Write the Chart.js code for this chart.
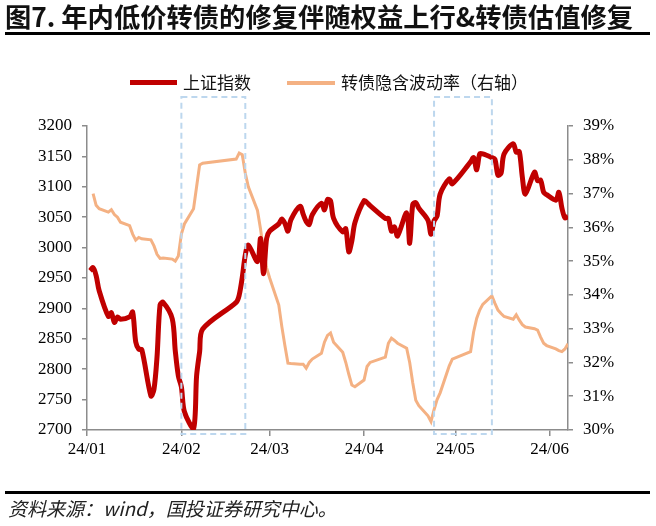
<!DOCTYPE html>
<html>
<head>
<meta charset="utf-8">
<script src="https://cdn.jsdelivr.net/npm/chart.js@4.4.1/dist/chart.umd.min.js"></script>
<style>
  body { margin: 0; background: #fff; }
  #wrap { position: relative; width: 656px; height: 526px; overflow: hidden; font-family: "Noto Sans CJK SC", sans-serif; }
  #chart { position: absolute; left: 0; top: 0; }
  .title { position: absolute; left: 5px; top: 1px; font-size: 26.3px; line-height: 30px; font-weight: bold; color: #111; white-space: nowrap; }
  .rule { position: absolute; left: 5px; width: 645px; height: 3px; background: #000; }
  .swatch { position: absolute; }
  .legtext { position: absolute; font-size: 17px; line-height: 20px; color: #111; white-space: nowrap; }
  .source { position: absolute; left: 8px; top: 496px; font-size: 19px; line-height: 24px; color: #222; font-style: italic; white-space: nowrap; }
</style>
</head>
<body>
<div id="wrap">
  <canvas id="chart" width="656" height="526"></canvas>
  <div class="title">图7. 年内低价转债的修复伴随权益上行&amp;转债估值修复</div>
  <div class="rule" style="top:32px"></div>
  <div class="swatch" style="left:130px;top:80px;width:47px;height:5px;background:#C00000"></div>
  <div class="legtext" style="left:183px;top:72px">上证指数</div>
  <div class="swatch" style="left:287px;top:81px;width:48px;height:4px;background:#F4B183"></div>
  <div class="legtext" style="left:341px;top:72px">转债隐含波动率（右轴）</div>
  <div class="rule" style="top:491px"></div>
  <div class="source">资料来源：wind，国投证券研究中心。</div>
</div>
<script>
// trading days 2024 (MM-DD)
const dates = [
  "01-02","01-03","01-04","01-05","01-08","01-09","01-10","01-11","01-12","01-15","01-16","01-17","01-18","01-19","01-22","01-23","01-24","01-25","01-26","01-29","01-30","01-31",
  "02-01","02-02","02-05","02-06","02-07","02-08","02-19","02-20","02-21","02-22","02-23","02-26","02-27","02-28","02-29",
  "03-01","03-04","03-05","03-06","03-07","03-08","03-11","03-12","03-13","03-14","03-15","03-18","03-19","03-20","03-21","03-22","03-25","03-26","03-27","03-28","03-29",
  "04-01","04-02","04-03","04-08","04-09","04-10","04-11","04-12","04-15","04-16","04-17","04-18","04-19","04-22","04-23","04-24","04-25","04-26","04-29","04-30",
  "05-06","05-07","05-08","05-09","05-10","05-13","05-14","05-15","05-16","05-17","05-20","05-21","05-22","05-23","05-24","05-27","05-28","05-29","05-30","05-31",
  "06-03","06-04","06-05","06-06","06-07"
];

// 上证指数 (left axis)
const shIndex = [
  2962,2967,2954,2929,2887,2893,2877,2886,2882,2886,2894,2845,2833,2832,2756,2767,2820,2906,2910,2883,2830,2789,
  2771,2730,2702,2789,2829,2866,2910,2922,2951,2988,3004,2977,3015,2957,3015,
  3027,3039,3047,3040,3027,3046,3068,3055,3043,3038,3054,3073,3062,3079,3077,3048,3026,3031,2993,3011,3041,
  3077,3074,3069,3048,3048,3027,3034,3019,3057,3007,3071,3074,3065,3045,3022,3044,3052,3088,3113,3105,
  3141,3148,3128,3154,3154,3148,3145,3119,3122,3154,3171,3157,3158,3116,3088,3124,3110,3111,3091,3087,
  3078,3091,3065,3049,3051
];

// 转债隐含波动率, % (right axis)
const cbVol = [
  null,37.0,36.65,36.55,36.45,36.52,36.38,36.3,36.15,36.05,35.8,35.62,35.7,35.66,35.63,35.45,35.2,35.08,35.09,35.06,35.0,35.15,
  35.8,36.1,36.55,37.2,37.85,37.9,38.02,38.2,38.15,37.6,37.2,36.5,35.95,35.3,34.8,
  34.5,33.7,33.06,32.5,31.98,31.97,31.95,31.95,31.83,32.0,32.1,32.27,32.6,32.8,32.87,32.6,32.3,32.0,31.65,31.33,31.28,
  31.48,31.88,32.0,32.16,32.57,32.72,32.65,32.57,32.42,32.0,31.4,30.88,30.72,30.42,30.25,30.6,30.9,31.1,31.9,32.1,
  32.32,32.9,33.3,33.55,33.72,33.97,33.75,33.55,33.45,33.36,33.28,33.41,33.25,33.12,33.05,33.0,32.96,32.75,32.57,32.5,
  32.4,32.35,32.32,32.4,32.55
];

const tickDates = ["01-01","02-01","03-01","04-01","05-01","06-01"];
const tickLabels = ["24/01","24/02","24/03","24/04","24/05","24/06"];

// highlighted periods (dashed boxes)
const boxStarts = ["02-01","04-24"];
const boxEnds = ["02-22","05-13"];

function dayOf(md) {
  const [m, d] = md.split("-").map(Number);
  return (Date.UTC(2024, m - 1, d) - Date.UTC(2024, 0, 1)) / 864e5;
}

const serif = "'Liberation Serif', 'Times New Roman', 'DejaVu Serif', serif";
Chart.defaults.font.family = serif;
Chart.defaults.font.size = 17;
Chart.defaults.color = "#000";
const axisColor = "#8c8c8c";

const boxPlugin = {
  id: "boxes",
  afterDatasetsDraw(chart) {
    const { ctx, chartArea, scales } = chart;
    ctx.save();
    ctx.strokeStyle = "#BDD7EE";
    ctx.lineWidth = 2;
    ctx.setLineDash([6, 4]);
    for (let i = 0; i < boxStarts.length; i++) {
      const x1 = scales.x.getPixelForValue(dayOf(boxStarts[i]));
      const x2 = scales.x.getPixelForValue(dayOf(boxEnds[i]));
      ctx.strokeRect(x1, chartArea.top - 29, x2 - x1, chartArea.bottom - chartArea.top + 33);
    }
    ctx.restore();
  }
};

function draw() {
  new Chart(document.getElementById("chart"), {
    type: "line",
    data: {
      datasets: [
        {
          label: "上证指数",
          data: dates.map((d, i) => ({ x: dayOf(d), y: shIndex[i] })),
          borderColor: "#C00000",
          borderWidth: 5,
          pointRadius: 0,
          tension: 0.3,
          yAxisID: "y"
        },
        {
          label: "转债隐含波动率（右轴）",
          data: dates.map((d, i) => ({ x: dayOf(d), y: cbVol[i] })),
          borderColor: "#F4B183",
          borderWidth: 3,
          pointRadius: 0,
          tension: 0,
          yAxisID: "y1"
        }
      ]
    },
    options: {
      responsive: false,
      animation: false,
      layout: { padding: { top: 126, bottom: 0, left: 0, right: 0 } },
      plugins: { legend: { display: false }, tooltip: { enabled: false } },
      scales: {
        x: {
          type: "linear",
          min: 0,
          max: 158,
          border: { color: axisColor, width: 1.5 },
          grid: { drawOnChartArea: false, drawTicks: true, tickLength: 6, color: axisColor, lineWidth: 1.5 },
          afterBuildTicks: (axis) => { axis.ticks = tickDates.map((d) => ({ value: dayOf(d) })); },
          ticks: {
            padding: 3,
            maxRotation: 0,
            autoSkip: false,
            callback: (val, index) => tickLabels[index]
          },
          afterFit: (s) => { s.height = 96; }
        },
        y: {
          position: "left",
          min: 2700,
          max: 3200,
          border: { color: axisColor, width: 1.5 },
          grid: { drawOnChartArea: false, tickLength: 5, color: axisColor, lineWidth: 1.5 },
          ticks: { stepSize: 50, padding: 10, callback: (v) => String(v) },
          afterFit: (s) => { s.width = 87; }
        },
        y1: {
          position: "right",
          min: 30,
          max: 39,
          border: { color: axisColor, width: 1.5 },
          grid: { drawOnChartArea: false, tickLength: 5, color: axisColor, lineWidth: 1.5 },
          ticks: { stepSize: 1, padding: 10, callback: (v) => v + "%" },
          afterFit: (s) => { s.width = 88; }
        }
      }
    },
    plugins: [boxPlugin]
  });
}

document.fonts.ready.then(draw);
</script>
</body>
</html>
